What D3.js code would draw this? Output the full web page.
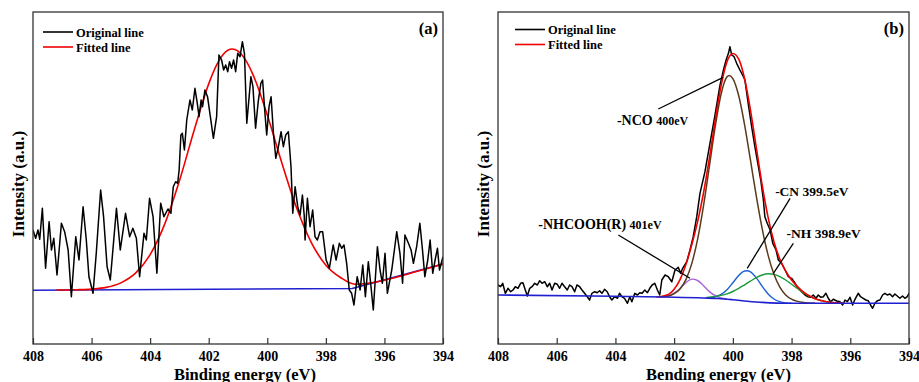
<!DOCTYPE html>
<html>
<head>
<meta charset="utf-8">
<script src="https://cdn.jsdelivr.net/npm/d3@7"></script>
<style>
  body { margin: 0; background: #fff; }
  svg text { font-family: "Liberation Serif", "Times New Roman", serif; font-weight: bold; fill: #000; }
</style>
</head>
<body>
<div id="chart"></div>
<script>
// x axis ticks (eV), both panels
const energyTicks = [408, 406, 404, 402, 400, 398, 396, 394];

// ---- panel (a): [binding energy eV, intensity a.u.] ----
const origA = [
  [408.00,114],[407.91,105.7],[407.83,114],[407.77,104.7],[407.68,135.7],[407.57,75.7],[407.45,122.3],[407.37,94],
  [407.29,105.7],[407.18,69],[407.03,120.7],[406.92,112.3],[406.80,94],[406.69,47.3],[406.54,107.3],[406.43,84],
  [406.29,137.3],[406.18,104],[406.09,67.3],[405.95,50.7],[405.84,90.7],[405.69,154],[405.59,127.3],[405.47,77.3],
  [405.36,64],[405.15,135.7],[405.02,94],[404.84,130.7],[404.70,107.3],[404.59,115.7],[404.47,105.7],[404.36,67.3],
  [404.21,110.7],[404.13,104],[404.02,145.7],[403.90,127.3],[403.77,70.7],[403.64,140.7],[403.53,127.3],[403.39,135],
  [403.29,130.7],[403.21,157.3],[403.13,162.3],[403.06,160.7],[403.01,174],[402.95,209],[402.90,210.7],[402.83,194],
  [402.75,224],[402.64,244],[402.56,234],[402.47,255.7],[402.39,240.7],[402.33,227.3],[402.26,244],[402.21,237.3],
  [402.13,254],[402.04,247.3],[401.96,230.7],[401.84,205.7],[401.73,227.3],[401.65,289],[401.56,284],[401.49,274],
  [401.42,279],[401.35,272.3],[401.29,282.3],[401.22,275.7],[401.15,284],[401.08,272.3],[401.01,290.7],[400.93,287.3],
  [400.85,302.3],[400.78,290.7],[400.70,220.7],[400.62,247.3],[400.56,267.3],[400.49,257.3],[400.40,215.7],[400.31,242.3],
  [400.22,260.7],[400.16,264],[400.08,230.7],[400.02,209],[399.94,237.3],[399.87,247.3],[399.79,210.7],[399.71,185.7],
  [399.62,197.3],[399.53,212.3],[399.45,197.3],[399.37,209],[399.28,212.3],[399.19,177.3],[399.13,130.7],[399.05,157.3],
  [398.96,137.3],[398.88,129],[398.80,149],[398.74,129],[398.71,104],[398.63,145.7],[398.54,117.3],[398.45,134],
  [398.37,107.3],[398.29,104],[398.20,112.3],[398.11,112.3],[397.99,84],[397.88,75.7],[397.75,99],[397.65,84],
  [397.54,100.7],[397.46,95.7],[397.38,99],[397.29,80.7],[397.20,54],[397.12,50.7],[397.04,39],[396.93,67.3],
  [396.83,54],[396.74,79],[396.65,47.3],[396.55,82.3],[396.47,60.7],[396.38,34],[396.24,97.3],[396.15,74],
  [396.07,60.7],[395.98,90.7],[395.90,50.7],[395.75,74],[395.66,94],[395.58,112.3],[395.47,90.7],[395.38,60.7],
  [395.30,109],[395.18,100.7],[395.09,94],[395.01,80.7],[394.90,97.3],[394.79,120.7],[394.70,94],[394.62,67.3],
  [394.52,84],[394.44,104],[394.35,70.7],[394.27,84],[394.19,95.7],[394.12,74],[394.00,87.3]
];
const fitA = [
  [407.2,54],[406.5,54.3],[406,54.9],[405.5,56.6],[405,61.1],[404.5,70.8],[404,89.4],[403.5,120.1],[403,163.2],
  [402.5,213.5],[402,260.1],[401.75,277.8],[401.5,289.8],[401.2,295],[401,292.9],[400.75,284.4],[400.5,270.2],
  [400,229],[399.5,180.8],[399,136.2],[398.5,101.7],[398,78.8],[397.5,66.5],[397,59.8],[396.5,61],[396,63.9],
  [395.5,67.5],[395,71.7],[394.5,75.8],[394,80]
];
const baseA = [[408,53.7],[397.1,55.5],[394,80]];

// ---- panel (b) ----
const origB = [
  [408.00,59],[407.91,57.3],[407.84,60.7],[407.75,50.7],[407.66,55.7],[407.57,52.3],[407.49,54],[407.41,57.3],
  [407.32,55.7],[407.23,60.7],[407.15,61.3],[407.07,54],[407.00,48],[406.92,55.7],[406.84,57.3],[406.75,60.7],
  [406.66,59],[406.58,63.3],[406.50,60.7],[406.41,62.3],[406.32,57.3],[406.24,60.7],[406.16,54],[406.07,60.7],
  [405.98,59.7],[405.90,55.7],[405.82,60.7],[405.73,57.3],[405.64,54],[405.56,59],[405.48,57.3],[405.39,52.3],
  [405.31,59],[405.22,57.3],[405.14,54],[405.05,50.7],[404.96,47.3],[404.88,44],[404.80,50.7],[404.71,52.3],
  [404.62,51.3],[404.54,53.3],[404.46,50.7],[404.37,54.7],[404.28,52.3],[404.20,47.3],[404.12,44],[404.03,47.3],
  [403.93,45.7],[403.86,50.7],[403.78,47.3],[403.69,45.7],[403.59,40.7],[403.51,47.3],[403.44,42.3],[403.34,50.7],
  [403.25,49],[403.17,51.3],[403.09,50.7],[403.00,54],[402.91,51.3],[402.83,55.7],[402.75,59],[402.66,60.7],
  [402.57,54],[402.49,49],[402.42,64],[402.31,69],[402.20,67.3],[402.08,62.3],[401.97,74],[401.86,76.7],
  [401.78,70.7],[401.71,75.7],[401.57,82.3],[401.46,94],[401.35,107.3],[401.23,127.3],[401.12,150.7],[400.95,172.3],
  [400.78,200.7],[400.61,228.7],[400.44,258.7],[400.32,274],[400.23,284],[400.15,290.7],[400.10,297.3],[400.04,289],
  [399.96,287.3],[399.87,280.7],[399.76,274],[399.64,267.3],[399.59,264],[399.47,239],[399.36,217.3],[399.25,197.3],
  [399.13,177.3],[399.05,164],[398.96,144],[398.91,127.3],[398.83,120.7],[398.73,114],[398.64,100.7],[398.53,94],
  [398.45,84],[398.34,80.7],[398.22,74],[398.11,67.3],[398.00,65.7],[397.88,60.7],[397.77,55.7],[397.66,52.3],
  [397.54,49],[397.45,47.3],[397.35,46.7],[397.26,49],[397.17,45.7],[397.09,49],[397.01,46.7],[396.92,47.3],
  [396.83,50.7],[396.75,45.7],[396.67,42.3],[396.58,44.7],[396.46,43],[396.35,42.3],[396.26,39],[396.18,44],
  [396.10,42.3],[396.01,46.7],[395.92,39],[395.84,44.7],[395.73,50.7],[395.65,47.3],[395.56,45.7],[395.47,44],
  [395.39,43.3],[395.31,39],[395.24,35.7],[395.16,40.7],[395.08,43.3],[394.99,44],[394.90,49],[394.82,50.7],
  [394.74,49],[394.65,50],[394.56,47.3],[394.48,50],[394.40,48],[394.31,45.7],[394.22,48],[394.14,45.7],
  [394.06,47.3],[394.00,50.7]
];
const fitB = [
  [402.6,46.8],[402.2,49.6],[402.0,54.7],[401.8,64.4],[401.6,79.5],[401.4,99.2],[401.2,122.4],[401.0,151],[400.8,185.6],
  [400.6,223.8],[400.4,258.4],[400.2,282.2],[400.0,290.5],[399.8,284.9],[399.6,265.2],[399.4,233.8],[399.2,196.1],
  [399.0,158.5],[398.8,126.6],[398.6,102.3],[398.4,85],[398.2,72.8],[398.0,64],[397.8,57.4],[397.6,52.2],
  [397.4,48.3],[397.2,45.3],[397.0,43.5],[396.6,41.5],[396.2,40.9]
];
const baseB = [[408,49],[404,47.7],[401,46],[400.5,45.5],[400,44.3],[399.5,42.8],[399,41.6],[398.5,40.9],[398,40.7],[394,40.7]];
const ncoB = [
  [402.5,47],[402.2,48],[402,50.3],[401.8,55.1],[401.6,64.4],[401.4,80.4],[401.2,104.8],[401,138.1],[400.8,177.5],
  [400.6,217.6],[400.4,250],[400.2,267.2],[400.12,268.6],[400,265.4],[399.8,248.2],[399.6,219.2],[399.4,183.8],[399.2,147.6],
  [399,115.1],[398.8,88.9],[398.6,69.7],[398.4,56.9],[398.2,49.1],[398,44.8],[397.6,41.5],[397.2,40.8]
];
const cnB = [
  [400.8,46.3],[400.6,47.2],[400.4,49.6],[400.2,54.2],[400,61.2],[399.8,68.5],[399.6,73],[399.5,73.3],[399.4,72.1],
  [399.2,66.1],[399,57.6],[398.8,50.1],[398.6,45],[398.4,42.3],[398.2,41.1],[398,40.8]
];
const nhB = [
  [400.9,46.6],[400.6,47.5],[400.4,48.6],[400.2,50.2],[400,52.5],[399.8,55.6],[399.6,59.2],[399.4,62.9],[399.2,66.4],
  [399,69],[398.8,70.2],[398.6,69.6],[398.4,67.4],[398.2,64],[398,59.8],[397.8,55.5],[397.6,51.4],[397.4,48],
  [397.2,45.3],[397,43.5],[396.6,41.5],[396.2,40.9]
];
const nhcoohB = [
  [402.4,46.9],[402.2,48],[402,50.8],[401.8,55.6],[401.6,61.4],[401.4,64.9],[401.2,63.5],[401,58.3],[400.8,52.4],
  [400.6,48.3],[400.4,46.1],[400.2,45]
];

const W = 919, H = 382;
const svg = d3.select('#chart').append('svg').attr('width', W).attr('height', H);

function drawPanel(opt) {
  const x = d3.scaleLinear().domain([408, 394]).range([opt.left, opt.right]);
  const y = d3.scaleLinear().domain([0, 332]).range([344, 12]);
  const g = svg.append('g');

  const clipId = 'clip-' + opt.tag;
  svg.append('clipPath').attr('id', clipId).append('rect')
    .attr('x', opt.left).attr('y', 12).attr('width', opt.right - opt.left).attr('height', 332);

  const plot = g.append('g').attr('clip-path', 'url(#' + clipId + ')');
  const line = d3.line().x(d => x(d[0])).y(d => y(d[1]));
  const smooth = d3.line().x(d => x(d[0])).y(d => y(d[1])).curve(d3.curveMonotoneX);

  opt.series.forEach(s => {
    plot.append('path')
      .datum(s.data.slice().sort((a, b) => a[0] - b[0]))
      .attr('d', s.smooth ? smooth : line)
      .attr('fill', 'none')
      .attr('stroke', s.color)
      .attr('stroke-width', s.width)
      .attr('stroke-linejoin', 'round');
  });

  // axis
  const ax = g.append('g')
    .attr('transform', 'translate(0,344)')
    .call(d3.axisBottom(x).tickValues(energyTicks).tickSize(-6).tickPadding(7).tickFormat(d3.format('d')));
  ax.select('.domain').remove();
  ax.selectAll('.tick line').attr('stroke', '#333').attr('stroke-width', 1.2);
  ax.selectAll('.tick text').style('font-size', '14px').style('font-family', '"Liberation Serif", serif')
    .style('font-weight', 'bold').attr('fill', '#000');

  g.append('rect')
    .attr('x', opt.left).attr('y', 12).attr('width', opt.right - opt.left).attr('height', 332)
    .attr('fill', 'none').attr('stroke', '#333').attr('stroke-width', 1.3);

  // titles
  g.append('text')
    .attr('x', (opt.left + opt.right) / 2 + opt.titleDx).attr('y', 380)
    .attr('text-anchor', 'middle').style('font-size', '16.5px').text(opt.xTitle);
  g.append('text')
    .attr('transform', 'translate(' + (opt.left - 9) + ',184) rotate(-90)')
    .attr('text-anchor', 'middle').style('font-size', '17px').text('Intensity (a.u.)');

  g.append('text').attr('x', opt.right - 5).attr('y', 34).attr('text-anchor', 'end')
    .style('font-size', '16.5px').text(opt.label);

  // legend
  const lg = g.append('g').attr('transform', 'translate(' + (opt.left + opt.legendDx) + ',' + opt.legendY + ')');
  [['Original line', '#000'], ['Fitted line', '#f00000']].forEach((d, i) => {
    lg.append('line').attr('x1', 0).attr('x2', 30).attr('y1', i * 15).attr('y2', i * 15)
      .attr('stroke', d[1]).attr('stroke-width', 1.6);
    lg.append('text').attr('x', 33).attr('y', i * 15 + 4.5).style('font-size', '12.5px').text(d[0]);
  });

  return { x, y, g };
}

drawPanel({
  tag: 'a', left: 33, right: 443, label: '(a)', legendDx: 10, legendY: 32, titleDx: 7,
  xTitle: 'Binding energy (eV)',
  series: [
    { data: baseA, color: '#2020d0', width: 1.6 },
    { data: fitA, color: '#f00000', width: 1.6, smooth: true },
    { data: origA, color: '#000', width: 1.5 }
  ]
});

const pb = drawPanel({
  tag: 'b', left: 498, right: 909, label: '(b)', legendDx: 17, legendY: 29.5, titleDx: 15,
  xTitle: 'Bending energy (eV)',
  series: [
    { data: origB, color: '#000', width: 1.5 },
    { data: nhcoohB, color: '#a866d8', width: 1.4, smooth: true },
    { data: cnB, color: '#1a5fd8', width: 1.4, smooth: true },
    { data: nhB, color: '#1a9a3a', width: 1.4, smooth: true },
    { data: ncoB, color: '#5a3a1a', width: 1.5, smooth: true },
    { data: fitB, color: '#f00000', width: 1.6, smooth: true },
    { data: baseB, color: '#2020d0', width: 1.6, smooth: true }
  ]
});

// peak labels (b), anchored in data coordinates
const notes = [
  { main: '-NCO', sub: '400eV', big: 14, small: 12, at: [403.95, 219.5], from: [402.54, 235], to: [400.33, 266.7] },
  { main: '-CN', sub: '399.5eV', big: 13.5, small: 13.5, at: [398.56, 148], from: [398.05, 145.7], to: [399.51, 75.7] },
  { main: '-NH', sub: '398.9eV', big: 13.5, small: 13.5, at: [398.17, 106.5], from: [397.94, 100.7], to: [398.62, 70.7] },
  { main: '-NHCOOH(R)', sub: '401eV', big: 14, small: 12, at: [406.63, 115], from: [403.9, 109], to: [401.46, 65.7] }
];
notes.forEach(n => {
  pb.g.append('line')
    .attr('x1', pb.x(n.from[0])).attr('y1', pb.y(n.from[1]))
    .attr('x2', pb.x(n.to[0])).attr('y2', pb.y(n.to[1]))
    .attr('stroke', '#000').attr('stroke-width', 1.3);
  const t = pb.g.append('text').attr('x', pb.x(n.at[0])).attr('y', pb.y(n.at[1]));
  t.append('tspan').style('font-size', n.big + 'px').text(n.main + ' ');
  t.append('tspan').style('font-size', n.small + 'px').text(n.sub);
});
</script>
</body>
</html>
